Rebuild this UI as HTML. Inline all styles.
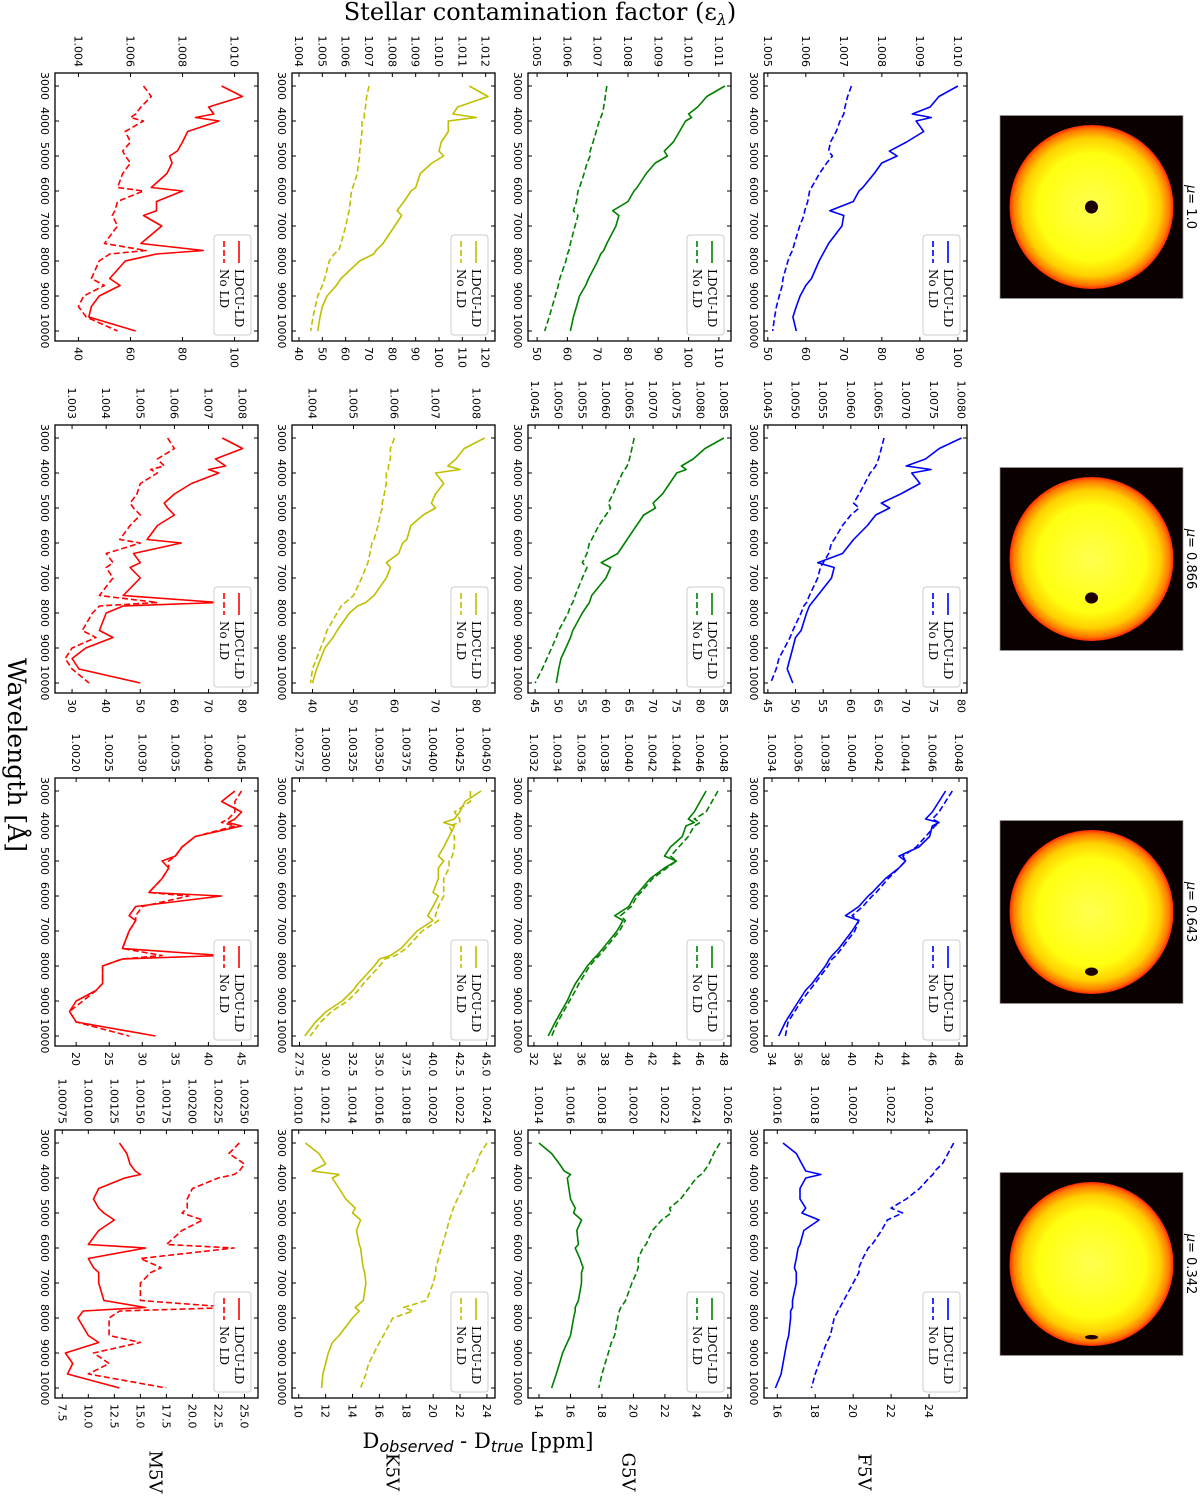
<!DOCTYPE html>
<html><head><meta charset="utf-8">
<style>
html,body{margin:0;padding:0;background:#fff;}
body{width:1200px;height:1501px;overflow:hidden;position:relative;}
#fig{position:absolute;left:0;top:0;width:1501px;height:1200px;transform-origin:0 0;transform:translate(1200px,0) rotate(90deg);}
text{font-family:"DejaVu Sans","Liberation Sans",sans-serif;}
.serif{font-family:"DejaVu Serif","Liberation Serif",serif;}
</style></head>
<body>
<svg id="fig" width="1501" height="1200" viewBox="0 0 1501 1200" xmlns="http://www.w3.org/2000/svg">
<defs>
<radialGradient id="sun" cx="50%" cy="50%" r="50%">
<stop offset="0%" stop-color="#ffff50"/>
<stop offset="65%" stop-color="#ffff10"/>
<stop offset="84%" stop-color="#ffd000"/>
<stop offset="95%" stop-color="#ff7a00"/>
<stop offset="100%" stop-color="#ff2800"/>
</radialGradient>
</defs>
<g id="root"></g>
<text class="serif" x="0" y="0" font-size="24" text-anchor="middle" transform="translate(20,660) rotate(-90)">Stellar contamination factor (ε<tspan font-size="16" dy="5" font-style="italic">λ</tspan><tspan dy="-5">)</tspan></text>
<text class="serif" x="755" y="1192" font-size="25" text-anchor="middle">Wavelength [Å]</text>
<text class="serif" x="0" y="0" font-size="21" text-anchor="middle" transform="translate(1448,722) rotate(-90)">D<tspan font-size="16" dy="4" font-style="italic" font-family="DejaVu Sans">observed</tspan><tspan dy="-4"> -  D</tspan><tspan font-size="16" dy="4" font-style="italic" font-family="DejaVu Sans">true</tspan><tspan dy="-4"> [ppm]</tspan></text>
</svg>
<script>
const wl = [3000,3300,3600,3800,3900,4000,4300,4600,4860,5000,5200,5500,5900,6000,6300,6563,6700,7000,7500,7700,7800,8000,8500,8700,9000,9300,9600,10000];
const wlTicks = [3000,4000,5000,6000,7000,8000,9000,10000];
const rowNames = ['F5V','G5V','K5V','M5V'];
const muNames = ['1.0','0.866','0.643','0.342'];
const muValues = [1.0,0.866,0.643,0.342];

// F5V
const F5V_1_ldcu = [100,95,92.7,88,93,89,91,86.5,82,84,80,78,75,74,72.5,66.3,70,69.5,66,65,64.5,63.5,61.5,60,58.5,57.5,56.6,57.5];
const F5V_1_nold = [72,71,70.3,70,69.5,69,68,66.5,66,67,65.5,63.6,61.5,61,60.5,59.7,59.5,58.4,57,56.5,56,55.3,54,53.8,53,52.3,51.8,51.3];
const F5V_2_ldcu = [80,76,73.5,70,74.5,71,72.5,69,65.5,67,64.5,63,60.5,60,58.5,54,57,56.5,54,53,52.5,52,51,50,49.5,49,48.5,49.5];
const F5V_2_nold = [66,65.5,65,64.5,64,63.5,62.5,61.5,60.5,61.5,60,58.5,57,56.5,56,55,54.5,54,52.5,52,51.5,51,49.5,49,48,47,46.5,45.5];
const F5V_3_ldcu = [47,46.5,46,45.5,46.5,46,45.8,45,43.5,44,43.5,42.5,41.5,41.2,40.5,39.5,40.5,40,39,38.5,38.3,38,37,36.5,36,35.5,35,34.5];
const F5V_3_nold = [47.5,47,46.5,46,46.5,46.2,45.5,44.8,43.8,44,43.5,42.7,41.8,41.5,40.8,40,40.5,40.2,39.2,38.8,38.5,38.2,37.2,36.8,36.2,35.7,35.2,35];
const F5V_4_ldcu = [16.3,17,17.3,17.5,18.3,17.5,17.2,17.2,17.5,17.3,18.2,17.4,17.2,17.1,17,16.9,17,17,16.8,16.8,16.7,16.7,16.6,16.5,16.4,16.3,16.2,15.9];
const F5V_4_nold = [25.3,25,24.7,24.3,24.2,24,23.5,22.8,22,22.6,21.8,21.5,21,20.8,20.5,20.3,20.3,20,19.5,19.3,19.2,19,18.8,18.6,18.4,18.2,18,17.8];
// G5V
const G5V_1_ldcu = [112,106,103,100,101,99,97,95,92,93,89,86,83,82,80,75,77,76,73,72,71,70,67,66,64,63,62,61];
const G5V_1_nold = [73,72.5,72,71.5,71,70.5,69.5,68.5,67.5,67.5,66.5,65.5,64,63.5,63,62,63.5,62.5,61,60.5,60,59.5,57.5,57,56,55,54,52.5];
const G5V_2_ldcu = [85,81,78.5,76,77,75,73.5,72,70,70.5,68,66.5,64.5,64,62.5,59,61,60,57,56.5,56,55,53,52.5,51.5,50.5,50,49.5];
const G5V_2_nold = [66,65.5,65,64.5,64,63.5,62.5,61.5,60.5,61,60,58.5,57,56.5,56,55,56,55,53.5,53,52.5,52,50,49.5,48.5,47.5,46.5,45];
const G5V_3_ldcu = [46.5,46,45.5,45,45.5,44.8,44.5,43.5,43,44,43,41.8,40.8,40.5,40,38.8,39.5,39,37.8,37.3,37,36.5,35.5,35.2,34.8,34.3,33.8,33.2];
const G5V_3_nold = [47.5,47,46.5,45.5,46,45.5,45,44.2,43.5,44,43.2,42,41,40.7,40.2,39.3,39.7,39.2,38,37.5,37.2,36.7,35.8,35.5,35,34.5,34,33.5];
const G5V_4_ldcu = [14,14.8,15.3,15.6,16,15.8,15.9,16,16.3,16.2,16.7,16.4,16.5,16.3,16.6,16.8,16.7,16.7,16.5,16.3,16.3,16.2,16,15.8,15.5,15.3,15.1,14.8];
const G5V_4_nold = [25.5,25.1,24.8,24.5,24.3,24,23.5,23,22.3,22.4,21.8,21.2,20.8,20.6,20.3,20.3,20.2,19.9,19.5,19.2,19.1,19,18.8,18.6,18.4,18.2,18,17.8];
// K5V
const K5V_1_ldcu = [113,121,108,106,116,104,104,101,100,102,97,92,90,88,85,82,84,81,76,73,72,66,58,56,52,50,49,48];
const K5V_1_nold = [70,69,68.5,68,68,67,67,66.5,66,66,65.5,65,63,62.5,62,61.5,61,60,58,57,55,53,51,50,48,47,46,45];
const K5V_2_ldcu = [82,77,75,73,76,70,72,70,69,70,67,64,63,62,61,58,59,58,55,53,51,49,46,45,43,42,41,40];
const K5V_2_nold = [60,59,59,58.5,58.5,58,58,57.5,57,57,56.5,56,55,54.5,54,53.5,53,52,50,48,47,46,43.5,43,42,41,40,39.5];
const K5V_3_ldcu = [44.5,43,42.5,42,41,42,41.5,41,40.5,41,40.5,40.5,40,40.5,40,39.5,40,38.5,37,36,35,34.5,33,32.5,31.5,30,29,28];
const K5V_3_nold = [43.5,43.5,42,42.5,42.5,41.5,42,42,41.8,41.5,41.5,41,41,41,40.5,40.2,40.5,39,37.5,36.5,35.5,35,33.5,33,32,30.5,29.5,28.5];
const K5V_4_ldcu = [10.5,11.5,12,11,13,12.5,13,13.5,14.2,14,14.6,14.3,14.5,14.6,14.7,14.8,14.9,15,14.8,14.2,14.5,14,13,12.5,12.2,12,11.8,11.7];
const K5V_4_nold = [24,23.5,23.2,23,22.6,22.5,22.2,21.8,21.5,21.4,21.2,21,20.7,20.6,20.4,20.2,20.2,20,19.5,17.8,18.5,17,16.3,16,15.6,15.2,15,14.6];
// M5V
const M5V_1_ldcu = [95,103,90,92,85,94,82,80,78,75,76,74,68,80,70,70,65,72,64,88,70,58,52,56,48,45,44,62];
const M5V_1_nold = [65,68,64,62,60,65,58,60,57,58,60,57,55,65,55,54,53,55,50,66,52,48,45,50,42,40,43,55];
const M5V_2_ldcu = [74,80,72,75,70,73,65,60,57,58,60,55,52,62,48,50,47,50,45,73,45,40,38,42,34,30,32,50];
const M5V_2_nold = [58,60,55,57,53,55,50,49,47,48,50,47,44,50,40,42,40,42,38,55,38,36,33,37,30,28,30,35];
const M5V_3_ldcu = [44,42,45,44,43,45,38,36,35,33,34,33,31,42,29,28,29,28,27,42,27,24,24,23,20,19,20,32];
const M5V_3_nold = [45,44,44,43,42,44,38,36,35,34,34,33,31,37,30,29,29,28,27,33,27,24,24,23,21,19,20,28];
const M5V_4_ldcu = [13,13.7,14,14.5,15,13.5,11,10.5,11,11.5,12.5,11,10,15.5,10,10.5,11,11,11.5,15.5,9.5,9,10,11,7.8,8.5,8,13];
const M5V_4_nold = [24.5,23.5,25,24.5,24,22.5,20,19.5,19.5,19,21,19,17.5,24,15,17,16,15,15,24,13,12,12,15,10.5,12,10,17.5];

const dom = [
 [[49,102.4],[44.3,81],[33.4,48.6],[15.3,26]],
 [[47,114],[43.5,86.5],[31.5,48.6],[13.3,26.2]],
 [[37,124],[35,84.5],[26.8,45.8],[9.5,24.6]],
 [[31,109],[25,84.5],[16.8,47.5],[6.8,26.3]]
];
const ppmTicks = [
 [[50,60,70,80,90,100],[45,50,55,60,65,70,75,80],[34,36,38,40,42,44,46,48],[16,18,20,22,24]],
 [[50,60,70,80,90,100,110],[45,50,55,60,65,70,75,80,85],[32,34,36,38,40,42,44,46,48],[14,16,18,20,22,24,26]],
 [[40,50,60,70,80,90,100,110,120],[40,50,60,70,80],[27.5,30,32.5,35,37.5,40,42.5,45],[10,12,14,16,18,20,22,24]],
 [[40,60,80,100],[30,40,50,60,70,80],[20,25,30,35,40,45],[7.5,10,12.5,15,17.5,20,22.5,25]]
];
const ppmLabels = [
 [['50','60','70','80','90','100'],['45','50','55','60','65','70','75','80'],['34','36','38','40','42','44','46','48'],['16','18','20','22','24']],
 [['50','60','70','80','90','100','110'],['45','50','55','60','65','70','75','80','85'],['32','34','36','38','40','42','44','46','48'],['14','16','18','20','22','24','26']],
 [['40','50','60','70','80','90','100','110','120'],['40','50','60','70','80'],['27.5','30.0','32.5','35.0','37.5','40.0','42.5','45.0'],['10','12','14','16','18','20','22','24']],
 [['40','60','80','100'],['30','40','50','60','70','80'],['20','25','30','35','40','45'],['7.5','10.0','12.5','15.0','17.5','20.0','22.5','25.0']]
];
const epsLabels = [
 [['1.005','1.006','1.007','1.008','1.009','1.010'],['1.0045','1.0050','1.0055','1.0060','1.0065','1.0070','1.0075','1.0080'],['1.0034','1.0036','1.0038','1.0040','1.0042','1.0044','1.0046','1.0048'],['1.0016','1.0018','1.0020','1.0022','1.0024']],
 [['1.005','1.006','1.007','1.008','1.009','1.010','1.011'],['1.0045','1.0050','1.0055','1.0060','1.0065','1.0070','1.0075','1.0080','1.0085'],['1.0032','1.0034','1.0036','1.0038','1.0040','1.0042','1.0044','1.0046','1.0048'],['1.0014','1.0016','1.0018','1.0020','1.0022','1.0024','1.0026']],
 [['1.004','1.005','1.006','1.007','1.008','1.009','1.010','1.011','1.012'],['1.004','1.005','1.006','1.007','1.008'],['1.00275','1.00300','1.00325','1.00350','1.00375','1.00400','1.00425','1.00450'],['1.0010','1.0012','1.0014','1.0016','1.0018','1.0020','1.0022','1.0024']],
 [['1.004','1.006','1.008','1.010'],['1.003','1.004','1.005','1.006','1.007','1.008'],['1.0020','1.0025','1.0030','1.0035','1.0040','1.0045'],['1.00075','1.00100','1.00125','1.00150','1.00175','1.00200','1.00225','1.00250']]
];
const series = [
 [[F5V_1_ldcu,F5V_1_nold],[F5V_2_ldcu,F5V_2_nold],[F5V_3_ldcu,F5V_3_nold],[F5V_4_ldcu,F5V_4_nold]],
 [[G5V_1_ldcu,G5V_1_nold],[G5V_2_ldcu,G5V_2_nold],[G5V_3_ldcu,G5V_3_nold],[G5V_4_ldcu,G5V_4_nold]],
 [[K5V_1_ldcu,K5V_1_nold],[K5V_2_ldcu,K5V_2_nold],[K5V_3_ldcu,K5V_3_nold],[K5V_4_ldcu,K5V_4_nold]],
 [[M5V_1_ldcu,M5V_1_nold],[M5V_2_ldcu,M5V_2_nold],[M5V_3_ldcu,M5V_3_nold],[M5V_4_ldcu,M5V_4_nold]]
];
const colors = ['#0000ff','#008000','#bfbf00','#ff0000'];

const NS = 'http://www.w3.org/2000/svg';
const root = document.getElementById('root');
const colX = [73,425,778,1130], rowY = [233,469,705,942], PW = 268, PH = 203;
function mk(tag, attrs, parent){
  const e = document.createElementNS(NS, tag);
  for (const k in attrs) e.setAttribute(k, attrs[k]);
  (parent||root).appendChild(e); return e;
}
function xScale(c, w){ return colX[c] + 13 + (w - 3000) * (245/7000); }
function yScale(r, c, v){ const d = dom[r][c]; return rowY[r] + PH - (v - d[0]) / (d[1] - d[0]) * PH; }

for (let c = 0; c < 4; c++) {
  const g = mk('g', {});
  
  
  const sx = colX[c] + (PW - 183) / 2, sy = 17;
  const bg = mk('rect', {x: sx, y: sy, width: 183, height: 183, fill: '#0a0000', stroke: '#999', 'stroke-width': 0.7}, g);
  
  
  const cx = sx + 91.5, cy = sy + 91.5, R = 82;
  const disk = mk('circle', {cx: cx, cy: cy, r: R, fill: 'url(#sun)'}, g);
  
  
  const mu = muValues[c];
  const off = Math.sqrt(1 - mu * mu) * R * 0.95;
  const spot = mk('ellipse', {cx: cx + off, cy: cy, rx: 6.5 * mu, ry: 6.5, fill: '#1a0000'}, g);
  
  
  const t = mk('text', {x: cx, y: 13, 'font-size': 13, 'text-anchor': 'middle'}, g);
  
  
  t.innerHTML = '<tspan font-style="italic">μ</tspan>= ' + muNames[c];
}

for (let r = 0; r < 4; r++) {
  const rl = mk('text', {x: 1472, y: rowY[r] + PH/2 + 7, 'font-size': 18, 'text-anchor': 'middle', class: 'serif'});
  
  
  rl.textContent = rowNames[r];
  for (let c = 0; c < 4; c++) {
    const x0 = colX[c], y0 = rowY[r];
    const g = mk('g', {});
    
    
    const clipId = 'clip' + r + c;
    const cp = mk('clipPath', {id: clipId}, g);
    mk('rect', {x: x0, y: y0, width: PW, height: PH}, cp);
    const [ld, nold] = series[r][c];
    [ld, nold].forEach((arr, si) => {
      let d = '';
      arr.forEach((v, i) => { d += (i ? 'L' : 'M') + xScale(c, wl[i]).toFixed(1) + ',' + yScale(r, c, v).toFixed(1); });
      const p = mk('path', {d: d, fill: 'none', stroke: colors[r], 'stroke-width': 1.6, 'stroke-linejoin': 'round', 'clip-path': 'url(#' + clipId + ')'}, g);
      if (si === 1) p.setAttribute('stroke-dasharray', '6,3');
      
      
    });
    const fr = mk('rect', {x: x0, y: y0, width: PW, height: PH, fill: 'none', stroke: '#000', 'stroke-width': 1.3}, g);
    
    
    wlTicks.forEach(w => {
      const x = xScale(c, w);
      mk('line', {x1: x, x2: x, y1: y0 + PH, y2: y0 + PH - 4, stroke: '#000', 'stroke-width': 1}, g);
      mk('line', {x1: x, x2: x, y1: y0, y2: y0 + 4, stroke: '#000', 'stroke-width': 1}, g);
      const t = mk('text', {x: x, y: y0 + PH + 14, 'font-size': 11, 'text-anchor': 'middle'}, g);
      
      
      t.textContent = w;
    });
    ppmTicks[r][c].forEach((v, i) => {
      const y = yScale(r, c, v);
      mk('line', {x1: x0 + PW, x2: x0 + PW - 4, y1: y, y2: y, stroke: '#000', 'stroke-width': 1}, g);
      const t = mk('text', {x: x0 + PW + 6, y: y + 4, 'font-size': 11}, g);
      
      
      t.textContent = ppmLabels[r][c][i];
    });
    epsLabels[r][c].forEach(s => {
      const v = (parseFloat(s) - 1) * 1e4;
      const y = yScale(r, c, v);
      mk('line', {x1: x0, x2: x0 + 4, y1: y, y2: y, stroke: '#000', 'stroke-width': 1}, g);
      const t = mk('text', {x: x0 - 6, y: y + 4, 'font-size': 11, 'text-anchor': 'end'}, g);
      
      
      t.textContent = s;
    });
    const lg = mk('g', {}, g);
    
    
    const lx = x0 + PW - 106, ly = y0 + 7;
    mk('rect', {x: lx, y: ly, width: 100, height: 37, rx: 3, fill: '#fff', stroke: '#ccc', 'stroke-width': 1}, lg);
    ['LDCU-LD', 'No LD'].forEach((lab, i) => {
      const yy = ly + 12 + i * 15;
      const ln = mk('line', {x1: lx + 6, x2: lx + 28, y1: yy, y2: yy, stroke: colors[r], 'stroke-width': 1.6}, lg);
      if (i === 1) ln.setAttribute('stroke-dasharray', '6,3');
      
      
      const t = mk('text', {x: lx + 34, y: yy + 4, 'font-size': 12, class: 'serif'}, lg);
      
      
      t.textContent = lab;
    });
  }
}
</script>
</body></html>
